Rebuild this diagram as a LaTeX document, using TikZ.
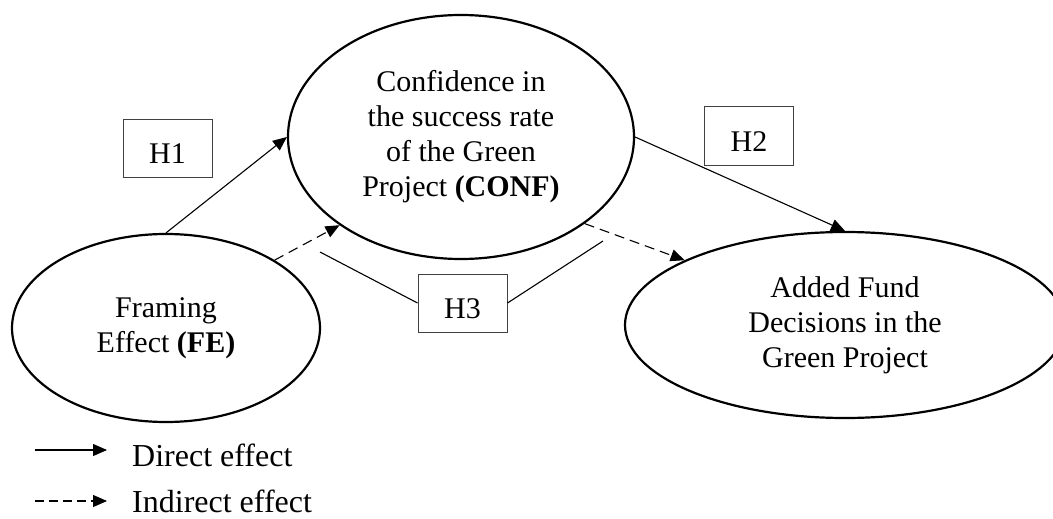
\documentclass[tikz,border=0pt]{standalone}
\usepackage{fontspec}
\setmainfont{Liberation Serif}
\usetikzlibrary{shapes.geometric,arrows.meta}
\begin{document}
\begin{tikzpicture}[x=1pt,y=-1pt,
  every node/.style={font=\fontsize{30}{35}\selectfont},
  oval/.style={ellipse,draw,line width=2.2pt,inner sep=0pt,align=center},
  hbox/.style={draw=black!75,line width=1pt,minimum width=89pt,minimum height=58pt,inner sep=0pt,text height=30pt,text depth=0pt},
  conn/.style={line width=1.1pt,-{Triangle[length=14pt,width=12pt]}},
  dconn/.style={conn,dash pattern=on 10pt off 6pt},
  plain/.style={line width=1.1pt},
  legtext/.style={anchor=base west,inner sep=0pt,font=\fontsize{32}{36}\selectfont}]
\useasboundingbox (0,0) rectangle (1053,519);
\node[oval,minimum width=346pt,minimum height=244pt] (conf) at (461,137) {Confidence in\\the success rate\\of the Green\\Project \textbf{(CONF)}};
\node[oval,minimum width=308pt,minimum height=188pt] (fe) at (166,328) {Framing\\Effect \textbf{(FE)}};
\node[oval,minimum width=440pt,minimum height=186pt] (add) at (845,325) {Added Fund\\Decisions in the\\Green Project};
\node[hbox] (h1) at (167.5,148) {H1};
\node[hbox] (h2) at (749,136) {H2};
\node[hbox] (h3) at (462.5,303) {H3};
\draw[conn] (fe.north) -- (conf.west);
\draw[dconn] (fe.32) -- (conf.216);
\draw[conn] (conf.east) -- (add.north);
\draw[dconn] (conf.325) -- (add.158);
\coordinate (h3a) at (320,252);
\coordinate (h3b) at (603,241);
\draw[plain] (h3a) -- (h3.west);
\draw[plain] (h3.east) -- (h3b);
\coordinate (l1a) at (35,450);
\coordinate (l1b) at (107,450);
\coordinate (l2a) at (35,501);
\coordinate (l2b) at (107,501);
\draw[conn] (l1a) -- (l1b);
\draw[conn,dash pattern=on 9pt off 5pt] (l2a) -- (l2b);
\node[legtext] (t1) at (132,466) {Direct effect};
\node[legtext] (t2) at (132,512) {Indirect effect};
\end{tikzpicture}
\end{document}
